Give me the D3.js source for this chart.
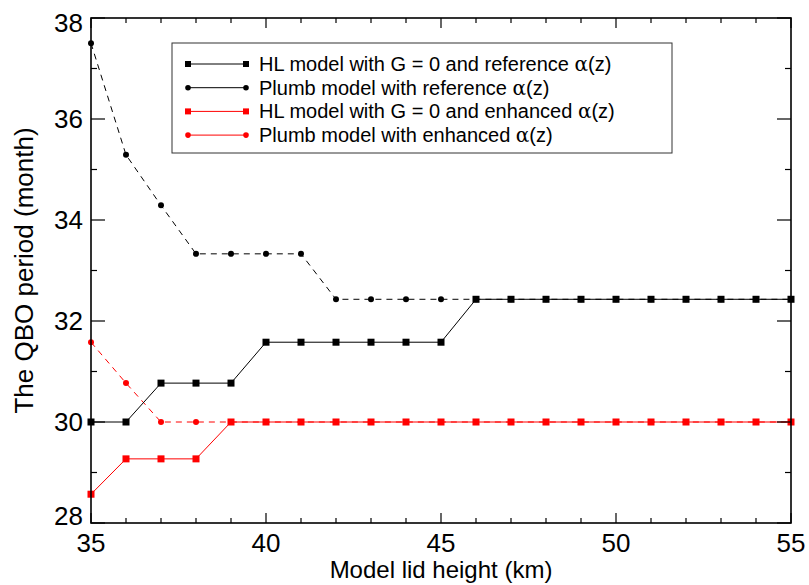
<!DOCTYPE html>
<html lang="en">
<head>
<meta charset="UTF-8">
<title>QBO period vs model lid height</title>
<script src="https://d3js.org/d3.v7.min.js"></script>
<style>
    body { margin: 0; background: #fff; }
    svg { font-family: "Liberation Sans", Arial, sans-serif; }
</style>
</head>
<body>
<div id="chart"></div>
<script>
    // lid heights (km)
    const lidHeights = [35, 36, 37, 38, 39, 40, 41, 42, 43, 44, 45, 46, 47, 48, 49, 50, 51, 52, 53, 54, 55];

    // QBO periods (month) for each series
    const hlReference = [30, 30, 30.77, 30.77, 30.77, 31.58, 31.58, 31.58, 31.58, 31.58, 31.58,
                         32.43, 32.43, 32.43, 32.43, 32.43, 32.43, 32.43, 32.43, 32.43, 32.43];
    const plumbReference = [37.5, 35.29, 34.29, 33.33, 33.33, 33.33, 33.33, 32.43, 32.43, 32.43, 32.43,
                            32.43, 32.43, 32.43, 32.43, 32.43, 32.43, 32.43, 32.43, 32.43, 32.43];
    const hlEnhanced = [28.57, 29.27, 29.27, 29.27, 30, 30, 30, 30, 30, 30, 30,
                        30, 30, 30, 30, 30, 30, 30, 30, 30, 30];
    const plumbEnhanced = [31.58, 30.77, 30, 30, 30, 30, 30, 30, 30, 30, 30,
                           30, 30, 30, 30, 30, 30, 30, 30, 30, 30];

    const xTicks = [35, 40, 45, 50, 55];
    const yTicks = [28, 30, 32, 34, 36, 38];

    const series = [
        { label: "Plumb model with reference", values: plumbReference, color: "#000", marker: "dot", dashed: true },
        { label: "Plumb model with enhanced", values: plumbEnhanced, color: "#f00", marker: "dot", dashed: true },
        { label: "HL model with G = 0 and reference", values: hlReference, color: "#000", marker: "square", dashed: false },
        { label: "HL model with G = 0 and enhanced", values: hlEnhanced, color: "#f00", marker: "square", dashed: false }
    ];
    const legendOrder = [2, 0, 3, 1];

    const width = 809, height = 585;
    const margin = { top: 18, right: 18, bottom: 62, left: 91 };

    const svg = d3.select("#chart").append("svg")
        .attr("width", width)
        .attr("height", height);

    const x = d3.scaleLinear().domain([35, 55]).range([margin.left, width - margin.right]);
    const y = d3.scaleLinear().domain([28, 38]).range([height - margin.bottom, margin.top]);

    const plot = svg.append("g");

    const line = d3.line()
        .x((d, i) => x(lidHeights[i]))
        .y(d => y(d));

    // series lines and markers
    series.forEach(s => {
        plot.append("path")
            .datum(s.values)
            .attr("d", line)
            .attr("fill", "none")
            .attr("stroke", s.color)
            .attr("stroke-width", 1)
            .attr("stroke-dasharray", s.dashed ? "6,5" : null);

        if (s.marker === "square") {
            plot.selectAll(null).data(s.values).enter()
                .append("rect")
                .attr("x", (d, i) => x(lidHeights[i]) - 3.5)
                .attr("y", d => y(d) - 3.5)
                .attr("width", 7)
                .attr("height", 7)
                .attr("fill", s.color);
        } else {
            plot.selectAll(null).data(s.values).enter()
                .append("circle")
                .attr("cx", (d, i) => x(lidHeights[i]))
                .attr("cy", d => y(d))
                .attr("r", 3)
                .attr("fill", s.color);
        }
    });

    // axes: major + minor ticks, mirrored on top / right
    const axisColor = "#000";
    const bottomY = height - margin.bottom, topY = margin.top;
    const leftX = margin.left, rightX = width - margin.right;

    const axes = svg.append("g");
    axes.append("rect")
        .attr("x", leftX).attr("y", topY)
        .attr("width", rightX - leftX).attr("height", bottomY - topY)
        .attr("fill", "none").attr("stroke", axisColor).attr("stroke-width", 1.6);

    d3.range(35, 56, 1).forEach(v => {
        const major = xTicks.includes(v);
        const len = major ? 10 : 5;
        axes.append("line").attr("x1", x(v)).attr("x2", x(v))
            .attr("y1", bottomY).attr("y2", bottomY - len)
            .attr("stroke", axisColor).attr("stroke-width", 1.2);
        axes.append("line").attr("x1", x(v)).attr("x2", x(v))
            .attr("y1", topY).attr("y2", topY + len)
            .attr("stroke", axisColor).attr("stroke-width", 1.2);
    });
    d3.range(28, 38.01, 1).forEach(v => {
        const major = yTicks.includes(v);
        const len = major ? 14 : 6;
        axes.append("line").attr("x1", leftX).attr("x2", leftX + len)
            .attr("y1", y(v)).attr("y2", y(v))
            .attr("stroke", axisColor).attr("stroke-width", 1.2);
        axes.append("line").attr("x1", rightX).attr("x2", rightX - len)
            .attr("y1", y(v)).attr("y2", y(v))
            .attr("stroke", axisColor).attr("stroke-width", 1.2);
    });

    axes.selectAll(".xlab").data(xTicks).enter()
        .append("text")
        .attr("x", d => x(d))
        .attr("y", bottomY + 29)
        .attr("text-anchor", "middle")
        .attr("font-size", 26)
        .text(d => d);

    // end labels are kept inside the axis span, like the original
    axes.selectAll(".ylab").data(yTicks).enter()
        .append("text")
        .attr("x", leftX - 8)
        .attr("y", d => Math.min(bottomY + 2, Math.max(topY + 14, y(d) + 9)))
        .attr("text-anchor", "end")
        .attr("font-size", 26)
        .text(d => d);

    svg.append("text")
        .attr("x", (leftX + rightX) / 2)
        .attr("y", height - 7)
        .attr("text-anchor", "middle")
        .attr("font-size", 24)
        .text("Model lid height (km)");

    svg.append("text")
        .attr("transform", `translate(33,${(topY + bottomY) / 2}) rotate(-90)`)
        .attr("text-anchor", "middle")
        .attr("font-size", 26)
        .text("The QBO period (month)");

    // legend
    const legend = svg.append("g");
    legend.append("rect")
        .attr("x", 172).attr("y", 43)
        .attr("width", 500).attr("height", 110)
        .attr("fill", "#fff").attr("stroke", "#333").attr("stroke-width", 1);

    legendOrder.forEach((idx, row) => {
        const s = series[idx];
        const ly = 64 + row * 23.7;
        const g = legend.append("g");
        g.append("line").attr("x1", 188).attr("x2", 246)
            .attr("y1", ly).attr("y2", ly)
            .attr("stroke", s.color).attr("stroke-width", 1);
        [188, 246].forEach(px => {
            if (s.marker === "square") {
                g.append("rect").attr("x", px - 3).attr("y", ly - 3)
                    .attr("width", 6).attr("height", 6).attr("fill", s.color);
            } else {
                g.append("circle").attr("cx", px).attr("cy", ly).attr("r", 2.8).attr("fill", s.color);
            }
        });
        const t = g.append("text")
            .attr("x", 259).attr("y", ly + 7)
            .attr("font-size", 20);
        t.append("tspan").text(s.label + " ");
        t.append("tspan").attr("font-family", "'DejaVu Serif', serif").text("α");
        t.append("tspan").text("(z)");
    });
</script>
</body>
</html>
